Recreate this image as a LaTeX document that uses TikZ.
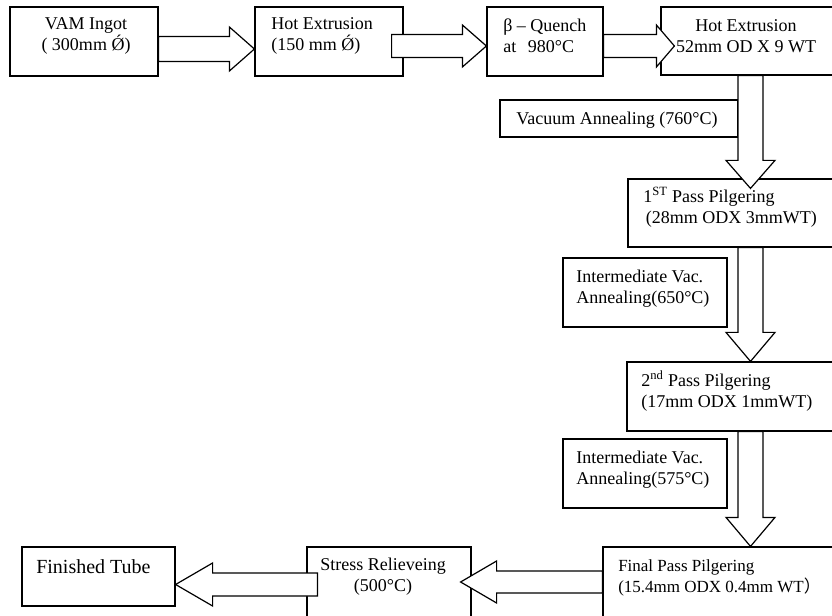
\documentclass[tikz,border=0pt]{standalone}
\usepackage{fontspec}
\setmainfont{Liberation Serif}
\newfontfamily\cjkfont{Noto Sans CJK SC}
\usetikzlibrary{fit,calc}
\tikzset{
  box/.style={draw, line width=0.9pt, inner sep=0pt, fill=white},
  txt/.style={inner sep=0pt, font=\fontsize{13.5}{15.75}\selectfont},
  bigtxt/.style={inner sep=0pt, font=\fontsize{15}{17}\selectfont},
  smalltxt/.style={inner sep=0pt, font=\fontsize{12.75}{15.75}\selectfont},
  blk/.style={draw, line width=0.9pt, fill=white, line join=miter},
}
% horizontal block arrow: tail, tip, shaft half, head half, head length (signed: + for rightwards)
\newcommand\arrH[5]{%
  \draw[blk] ($(#1)+(0,{-(#3)})$) -- ($(#2)+({-(#5)},{-(#3)})$) -- ($(#2)+({-(#5)},{-(#4)})$) -- (#2)
    -- ($(#2)+({-(#5)},{#4})$) -- ($(#2)+({-(#5)},{#3})$) -- ($(#1)+(0,{#3})$) -- cycle;}
% vertical block arrow (downwards): tail, tip, shaft half, head half, head length
\newcommand\arrV[5]{%
  \draw[blk] ($(#1)+({-(#3)},0)$) -- ($(#2)+({-(#3)},{-(#5)})$) -- ($(#2)+({-(#4)},{-(#5)})$) -- (#2)
    -- ($(#2)+({#4},{-(#5)})$) -- ($(#2)+({#3},{-(#5)})$) -- ($(#1)+({#3},0)$) -- cycle;}
\begin{document}
\begin{tikzpicture}[x=0.75pt,y=-0.75pt]
\clip (0,0) rectangle (832,616);
\fill[white] (0,0) rectangle (832,616);
% boxes
\node[box, fit={(10,7) (158,76)}] (b1) {};
\node[box, fit={(255,7) (403,76)}] (b2) {};
\node[box, fit={(487,7) (603,76)}] (b3) {};
\node[box, fit={(661,7) (850,75)}] (b4) {};
\node[box, fit={(500,100) (738,137)}] (vac) {};
\node[box, fit={(628,179) (850,247)}] (p1) {};
\node[box, fit={(563,258) (727,327)}] (i1) {};
\node[box, fit={(627,362) (850,431)}] (p2) {};
\node[box, fit={(563,439) (727,508)}] (i2) {};
\node[box, fit={(603,547) (850,630)}] (pf) {};
\node[box, fit={(307,547) (471,630)}] (sr) {};
\node[box, fit={(22,547) (175,606)}] (ft) {};
% helper coordinates
\coordinate (yA1) at (0,49);
\coordinate (yA) at (0,46);
\coordinate (xV) at (750.5,0);
\coordinate (yB1) at (0,582);
\coordinate (yB2) at (0,584.5);
\coordinate (a2s) at ($(b2.east |- yA)+(-12,0)$);
\coordinate (a3e) at ($(b4.west |- yA)+(14,0)$);
\coordinate (v1e) at ($(p1.north -| xV)+(0,10)$);
\coordinate (h1e) at ($(sr.east |- yB1)+(-11,0)$);
\coordinate (h2s) at ($(sr.west |- yB2)+(11,0)$);
% arrows
\arrH{b1.east |- yA1}{b2.west |- yA1}{12.5}{22}{25}
\arrH{a2s}{b3.west |- yA}{11.5}{21}{24}
\arrH{b3.east |- yA}{a3e}{11.5}{21}{18}
\arrV{b4.south -| xV}{v1e}{12.5}{24.5}{28}
\arrV{p1.south -| xV}{p2.north -| xV}{12.5}{24.5}{29}
\arrV{p2.south -| xV}{pf.north -| xV}{12.5}{24.5}{29}
\arrH{pf.west |- yB1}{h1e}{11}{21}{-36}
\arrH{h2s}{ft.east |- yB2}{11.5}{21.5}{-37}
% texts
\node[txt, align=center] (t1) at (86,36) {VAM Ingot\\( 300mm Ǿ)};
\node[txt, align=left, anchor=west] (t2) at (271,36) {Hot Extrusion\\(150 mm Ǿ)};
\node[txt, align=left, anchor=west] (t3) at (503,36) {β – Quench\\at\hspace{0.65em}980°C};
\node[txt, align=center] (t4) at (746,36) {Hot Extrusion\\52mm OD X 9 WT};
\node[txt] (tv) at (617,120) {Vacuum Annealing (760°C)};
\node[txt, align=left, anchor=west] (tp1) at (643,207) {1\textsuperscript{ST} Pass Pilgering\\\hspace{2pt}(28mm ODX 3mmWT)};
\node[txt, align=left, anchor=west] (ti1) at (576,289) {Intermediate Vac.\\Annealing(650°C)};
\node[txt, align=left, anchor=west] (tp2) at (641,391) {2\textsuperscript{nd} Pass Pilgering\\(17mm ODX 1mmWT)};
\node[txt, align=left, anchor=west] (ti2) at (576,470) {Intermediate Vac.\\Annealing(575°C)};
\node[smalltxt, align=left, anchor=west] (tpf) at (618,578) {Final Pass Pilgering\\(15.4mm ODX 0.4mm WT{\cjkfont ）}};
\node[txt, align=center] (tsr) at (383,577) {Stress Relieveing\\(500°C)};
\node[bigtxt, anchor=west] (tft) at (36,567) {Finished Tube};
\end{tikzpicture}
\end{document}
